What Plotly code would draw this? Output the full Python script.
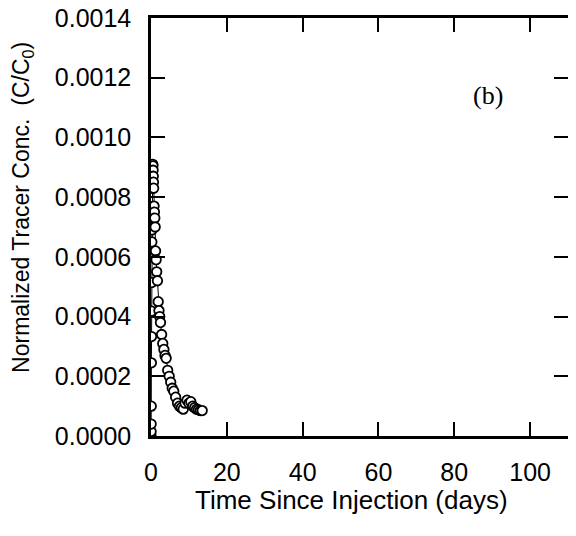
import plotly.graph_objects as go

# Time since injection (days)
time_days = [0.0, 0.02, 0.04, 0.07, 0.10, 0.13, 0.16, 0.19, 0.22, 0.25, 0.28, 0.31, 0.34, 0.37, 0.40, 0.45,
             0.5, 0.55, 0.6, 0.65, 0.7, 0.8, 0.9, 1.0, 1.1, 1.2, 1.35, 1.5, 1.7, 1.9, 2.1, 2.3, 2.5, 2.8,
             3.1, 3.4, 3.7, 4.0, 4.4, 4.8, 5.2, 5.6, 6.0, 6.5, 7.0, 7.5, 8.0, 8.5, 9.0, 9.5, 10.0, 10.5,
             11.0, 11.5, 12.0, 12.5, 13.0, 13.5]
# Normalized tracer concentration (C/C0)
conc = [0.0, 0.000015, 0.00004, 0.0001, 0.000245, 0.000333, 0.000418, 0.000514, 0.00065, 0.00069,
        0.00073, 0.00076, 0.00083, 0.00086, 0.00089, 0.00091,
        0.000905, 0.00089, 0.00087, 0.00085, 0.00083, 0.00077, 0.00075, 0.00073, 0.0007, 0.00062,
        0.00059, 0.00055, 0.00052, 0.00045, 0.00042, 0.0004, 0.00038, 0.00034, 0.00031, 0.00029,
        0.00027, 0.00026, 0.00022, 0.0002, 0.00018, 0.00016, 0.00015, 0.00013, 0.00011, 0.0001,
        0.000095, 0.00009, 0.00011, 0.00012, 0.00011, 0.000115, 0.0001, 0.000095, 0.00009,
        0.000088, 0.000085, 0.000085]

x_ticks = [0, 20, 40, 60, 80, 100]
y_ticks = [0.0, 0.0002, 0.0004, 0.0006, 0.0008, 0.0010, 0.0012, 0.0014]
y_tick_labels = ["0.0000", "0.0002", "0.0004", "0.0006", "0.0008", "0.0010", "0.0012", "0.0014"]

FONT = "Liberation Sans, Arial, Helvetica, sans-serif"

fig = go.Figure()
fig.add_trace(go.Scatter(
    x=time_days, y=conc, mode="lines+markers",
    line=dict(color="black", width=1),
    marker=dict(symbol="circle", size=9.5, color="white", line=dict(color="black", width=1.8)),
    showlegend=False,
))

axis_common = dict(
    showline=True, linecolor="black", linewidth=2.5, mirror="ticks",
    ticks="inside", ticklen=14, tickwidth=2, tickcolor="black",
    showgrid=False, zeroline=False, automargin=False,
    ticklabeloverflow="allow",
    tickfont=dict(family=FONT, size=25, color="black"),
)

fig.update_xaxes(range=[0, 110], tickvals=x_ticks, ticklabelstandoff=12, **axis_common)
fig.update_yaxes(range=[0, 0.0014], tickvals=y_ticks, ticktext=y_tick_labels, ticklabelstandoff=12, **axis_common)

fig.add_annotation(text="Time Since Injection (days)", xref="paper", yref="paper",
                   x=0.482, y=-0.153, xanchor="center", yanchor="middle", showarrow=False,
                   font=dict(family=FONT, size=26, color="black"))
fig.add_annotation(text="Normalized Tracer Conc.  (C/C<sub>0</sub>)", xref="paper", yref="paper",
                   x=-0.307, y=0.548, xanchor="center", yanchor="middle", showarrow=False, textangle=-90,
                   font=dict(family=FONT, size=23, color="black"))
fig.add_annotation(text="(b)", x=89, y=0.00114, xref="x", yref="y", showarrow=False,
                   font=dict(family="Liberation Serif, Times New Roman, serif", size=26, color="black"))

# page body has an 8px default margin; size the figure so the plot lands where the reference has it
fig.update_layout(
    width=560, height=520,
    margin=dict(l=143, r=0, t=10, b=92),
    paper_bgcolor="white", plot_bgcolor="white",
)

fig.write_html("out.html")
